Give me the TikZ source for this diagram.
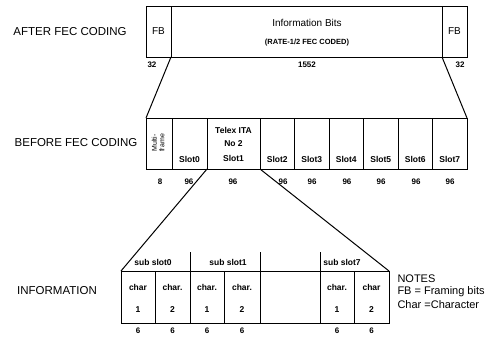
\documentclass[tikz,border=0pt]{standalone}
\usepackage{fontspec}
\setmainfont{Liberation Sans}
\begin{document}
\begin{tikzpicture}[x=1pt,y=-1pt,line width=1pt,
  box/.style={draw,anchor=north west,inner sep=0pt,outer sep=0pt},
  lbl/.style={font=\fontsize{11.5}{13}\selectfont,inner sep=0pt},
  big/.style={font=\fontsize{10}{11}\selectfont,inner sep=0pt},
  ctext/.style={font=\bfseries\fontsize{8.5}{10}\selectfont,inner sep=0pt},
  small/.style={font=\bfseries\fontsize{7.5}{9}\selectfont,inner sep=0pt},
  num/.style={font=\bfseries\fontsize{8}{9}\selectfont,inner sep=0pt},
  note/.style={font=\fontsize{11}{13}\selectfont,inner sep=0pt,anchor=west}]
\useasboundingbox (0,0) rectangle (499,338);

% ---------- top row ----------
\node[lbl] (after) at (70,32) {AFTER FEC CODING};
\node[box,minimum width=25pt,minimum height=51pt] (fbl) at (146,6) {};
\node[box,minimum width=271pt,minimum height=51pt] (info) at (171,6) {};
\node[box,minimum width=25pt,minimum height=51pt] (fbr) at (442,6) {};
\node[big] (fbltx) at (fbl.center) {FB};
\node[big] (fbrtx) at (fbr.center) {FB};
\node[big] (infotx) at (307,23) {Information Bits};
\node[small] (ratetx) at (307,43) {(RATE-1/2 FEC CODED)};
\node[num] (n32a) at (152,65) {32};
\node[num] (n1552) at (307,65) {1552};
\node[num] (n32b) at (460,65) {32};

% ---------- middle row ----------
\node[lbl] (before) at (76,143) {BEFORE FEC CODING};
\node[box,minimum width=26pt,minimum height=51pt] (mf) at (146,118) {};
\node[box,minimum width=35pt,minimum height=51pt] (s0) at (172,118) {};
\node[box,minimum width=53pt,minimum height=51pt] (s1) at (207,118) {};
\node[box,minimum width=34.5pt,minimum height=51pt] (s2) at (260,118) {};
\node[box,minimum width=34.5pt,minimum height=51pt] (s3) at (294.5,118) {};
\node[box,minimum width=34.5pt,minimum height=51pt] (s4) at (329,118) {};
\node[box,minimum width=34.5pt,minimum height=51pt] (s5) at (363.5,118) {};
\node[box,minimum width=34.5pt,minimum height=51pt] (s6) at (398,118) {};
\node[box,minimum width=34.5pt,minimum height=51pt] (s7) at (432.5,118) {};
\node[font=\fontsize{7}{7.5}\selectfont,inner sep=0pt,rotate=90,align=center] (mftx) at (158,143) {Multi-\\frame};
\node[ctext] (s0tx) at (s0.center |- 0,159) {Slot0};
\node[ctext] (telex) at (s1.center |- 0,130) {Telex ITA};
\node[ctext] (no2) at (s1.center |- 0,144) {No 2};
\node[ctext] (s1tx) at (s1.center |- 0,158) {Slot1};
\node[ctext] (s2tx) at (s2.center |- 0,159) {Slot2};
\node[ctext] (s3tx) at (s3.center |- 0,159) {Slot3};
\node[ctext] (s4tx) at (s4.center |- 0,159) {Slot4};
\node[ctext] (s5tx) at (s5.center |- 0,159) {Slot5};
\node[ctext] (s6tx) at (s6.center |- 0,159) {Slot6};
\node[ctext] (s7tx) at (s7.center |- 0,159) {Slot7};
\node[num] (m8) at (160,182) {8};
\node[num] (m96a) at (189,182) {96};
\node[num] (m96b) at (233,182) {96};
\node[num] (m96c) at (283,182) {96};
\node[num] (m96d) at (312,182) {96};
\node[num] (m96e) at (347,182) {96};
\node[num] (m96f) at (381,182) {96};
\node[num] (m96g) at (416,182) {96};
\node[num] (m96h) at (450,182) {96};

% ---------- bottom row ----------
\node[lbl] (infolbl) at (57,291) {INFORMATION};
\node[box,minimum width=34pt,minimum height=52pt] (c01) at (121,271) {};
\node[box,minimum width=35pt,minimum height=52pt] (c02) at (155,271) {};
\node[box,minimum width=34pt,minimum height=52pt] (c11) at (190,271) {};
\node[box,minimum width=36pt,minimum height=52pt] (c12) at (224,271) {};
\node[box,minimum width=60pt,minimum height=52pt] (cgap) at (260,271) {};
\node[box,minimum width=34pt,minimum height=52pt] (c71) at (320,271) {};
\node[box,minimum width=35pt,minimum height=52pt] (c72) at (354,271) {};
\coordinate (h1) at (190,252);
\coordinate (h2) at (260,252);
\coordinate (h3) at (320,252);
\draw (h1) -- (c11.north west);
\draw (h2) -- (cgap.north west);
\draw (h3) -- (c71.north west);
\node[ctext] (ss0) at (153,262) {sub slot0};
\node[ctext] (ss1) at (228,262) {sub slot1};
\node[ctext] (ss7) at (342,262) {sub slot7};
\node[ctext] (ch01) at (c01.center |- 0,287) {char};
\node[ctext] (ch02) at (c02.center |- 0,287) {char.};
\node[ctext] (ch11) at (c11.center |- 0,287) {char.};
\node[ctext] (ch12) at (c12.center |- 0,287) {char.};
\node[ctext] (ch71) at (c71.center |- 0,287) {char.};
\node[ctext] (ch72) at (c72.center |- 0,287) {char};
\node[ctext] (d01) at (c01.center |- 0,310) {1};
\node[ctext] (d02) at (c02.center |- 0,310) {2};
\node[ctext] (d11) at (c11.center |- 0,310) {1};
\node[ctext] (d12) at (c12.center |- 0,310) {2};
\node[ctext] (d71) at (c71.center |- 0,310) {1};
\node[ctext] (d72) at (c72.center |- 0,310) {2};
\node[num] (b01) at (c01.center |- 0,331) {6};
\node[num] (b02) at (c02.center |- 0,331) {6};
\node[num] (b11) at (c11.center |- 0,331) {6};
\node[num] (b12) at (c12.center |- 0,331) {6};
\node[num] (b71) at (c71.center |- 0,331) {6};
\node[num] (b72) at (c72.center |- 0,331) {6};

% ---------- notes ----------
\node[note] (notes) at (397,279) {NOTES};
\node[note] (fbnote) at (397,292) {FB = Framing bits};
\node[note] (charnote) at (397,305) {Char =Character};

% ---------- expansion lines ----------
\draw (fbl.south east) -- (mf.north west);
\draw (fbr.south west) -- (s7.north east);
\draw (s1.south west) -- (c01.north west);
\draw (s1.south east) -- (c72.north east);
\end{tikzpicture}
\end{document}
